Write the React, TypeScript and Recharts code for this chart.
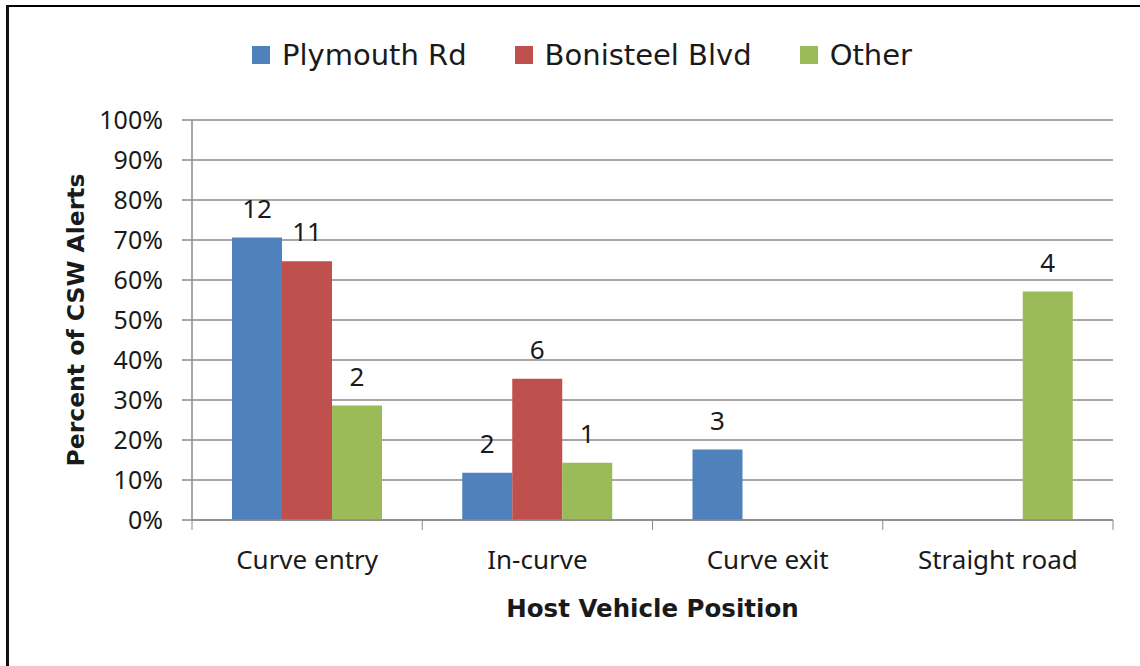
import { BarChart, Bar, XAxis, YAxis, CartesianGrid, Legend, LabelList, Label } from 'recharts';

const categories = ['Curve entry', 'In-curve', 'Curve exit', 'Straight road'];
// bar heights (percent of each road's CSW alerts)
const plymouthPct = [70.6, 11.8, 17.6, null];
const bonisteelPct = [64.7, 35.3, null, null];
const otherPct = [28.6, 14.3, null, 57.1];
// counts shown above the bars
const plymouthCount = [12, 2, 3, null];
const bonisteelCount = [11, 6, null, null];
const otherCount = [2, 1, null, 4];
const yTicks = [0, 10, 20, 30, 40, 50, 60, 70, 80, 90, 100];

const seriesNames = ['Plymouth Rd', 'Bonisteel Blvd', 'Other'];
const colors = ['#4F81BD', '#C0504D', '#9BBB59'];

const data = categories.map((name, i) => ({
  name,
  plymouth: plymouthPct[i],
  bonisteel: bonisteelPct[i],
  other: otherPct[i],
  plymouthN: plymouthCount[i],
  bonisteelN: bonisteelCount[i],
  otherN: otherCount[i],
}));

const W = 1140;
const H = 666;
const gridColor = '#8a8a8a';
const textColor = '#1a1a1a';
const regularFont = '"Noto Sans", sans-serif';
const boldFont = '"DejaVu Sans", sans-serif';

const X_TICK_SIZE = 10;
const X_TICK_MARGIN = 21;

const XTick = (props: any) => {
  const { x, y, payload, index, visibleTicksCount, width } = props;
  const half = payload?.offset || width / visibleTicksCount / 2;
  const axisY = y - X_TICK_SIZE - X_TICK_MARGIN;
  return (
    <g>
      <line x1={x - half} x2={x - half} y1={axisY} y2={axisY + X_TICK_SIZE} stroke={gridColor} />
      {index === visibleTicksCount - 1 && (
        <line x1={x + half} x2={x + half} y1={axisY} y2={axisY + X_TICK_SIZE} stroke={gridColor} />
      )}
      <text x={x} y={y} dy="0.71em" textAnchor="middle" fill={textColor} fontFamily={regularFont} fontSize={26}>
        {payload.value}
      </text>
    </g>
  );
};

const renderLegend = () => (
  <div style={{ display: 'flex', justifyContent: 'center', alignItems: 'center', paddingLeft: 24, fontFamily: boldFont, fontSize: 29, color: textColor }}>
    {seriesNames.map((s, i) => (
      <div key={s} style={{ display: 'flex', alignItems: 'center', marginRight: i < seriesNames.length - 1 ? 48 : 0 }}>
        <span style={{ width: 18, height: 18, background: colors[i], marginRight: 12, display: 'inline-block' }} />
        <span>{s}</span>
      </div>
    ))}
  </div>
);

export default function App() {
  return (
    <div style={{ position: 'absolute', left: 0, top: 0, width: W, height: H, background: '#fff', overflow: 'hidden' }}>
      <div style={{ position: 'absolute', left: 6, top: 5, width: 1300, height: 900, borderTop: '2px solid #000', borderLeft: '3px solid #111' }} />
      <div style={{ position: 'absolute', left: 0, top: 0 }}>
        <BarChart width={W} height={H} data={data} margin={{ top: 120, right: 27, left: 22, bottom: 46 }} barSize={50} barGap={0}>
          <CartesianGrid vertical={false} stroke={gridColor} strokeWidth={1.5} />
          <XAxis
            dataKey="name"
            height={100}
            stroke={gridColor}
            strokeWidth={1.5}
            tickLine={false}
            tickSize={X_TICK_SIZE}
            tickMargin={X_TICK_MARGIN}
            tick={<XTick />}
            interval={0}
          >
            <Label
              content={({ viewBox }: any) => (
                <text
                  x={viewBox.x + viewBox.width / 2}
                  y={608}
                  textAnchor="middle"
                  dominantBaseline="central"
                  fontFamily={boldFont}
                  fontWeight="bold"
                  fontSize={24.5}
                  fill={textColor}
                >
                  Host Vehicle Position
                </text>
              )}
            />
          </XAxis>
          <YAxis
            width={170}
            domain={[0, 100]}
            ticks={yTicks}
            interval={0}
            tickFormatter={(v: number) => `${v}%`}
            stroke={gridColor}
            strokeWidth={1.5}
            tickSize={10}
            tickMargin={19}
            tick={{ fill: textColor, fontFamily: regularFont, fontSize: 25 }}
          >
            <Label
              content={({ viewBox }: any) => (
                <text
                  x={76}
                  y={viewBox.y + viewBox.height / 2}
                  transform={`rotate(-90 76 ${viewBox.y + viewBox.height / 2})`}
                  textAnchor="middle"
                  dominantBaseline="central"
                  fontFamily={boldFont}
                  fontWeight="bold"
                  fontSize={23.5}
                  fill={textColor}
                >
                  Percent of CSW Alerts
                </text>
              )}
            />
          </YAxis>
          <Legend verticalAlign="middle" content={renderLegend} wrapperStyle={{ top: 38, left: 0, width: W }} />
          <Bar dataKey="plymouth" name={seriesNames[0]} fill={colors[0]} isAnimationActive={false}>
            <LabelList dataKey="plymouthN" position="top" offset={20} fill={textColor} fontFamily={regularFont} fontSize={26} />
          </Bar>
          <Bar dataKey="bonisteel" name={seriesNames[1]} fill={colors[1]} isAnimationActive={false}>
            <LabelList dataKey="bonisteelN" position="top" offset={20} fill={textColor} fontFamily={regularFont} fontSize={26} />
          </Bar>
          <Bar dataKey="other" name={seriesNames[2]} fill={colors[2]} isAnimationActive={false}>
            <LabelList dataKey="otherN" position="top" offset={20} fill={textColor} fontFamily={regularFont} fontSize={26} />
          </Bar>
        </BarChart>
      </div>
    </div>
  );
}
